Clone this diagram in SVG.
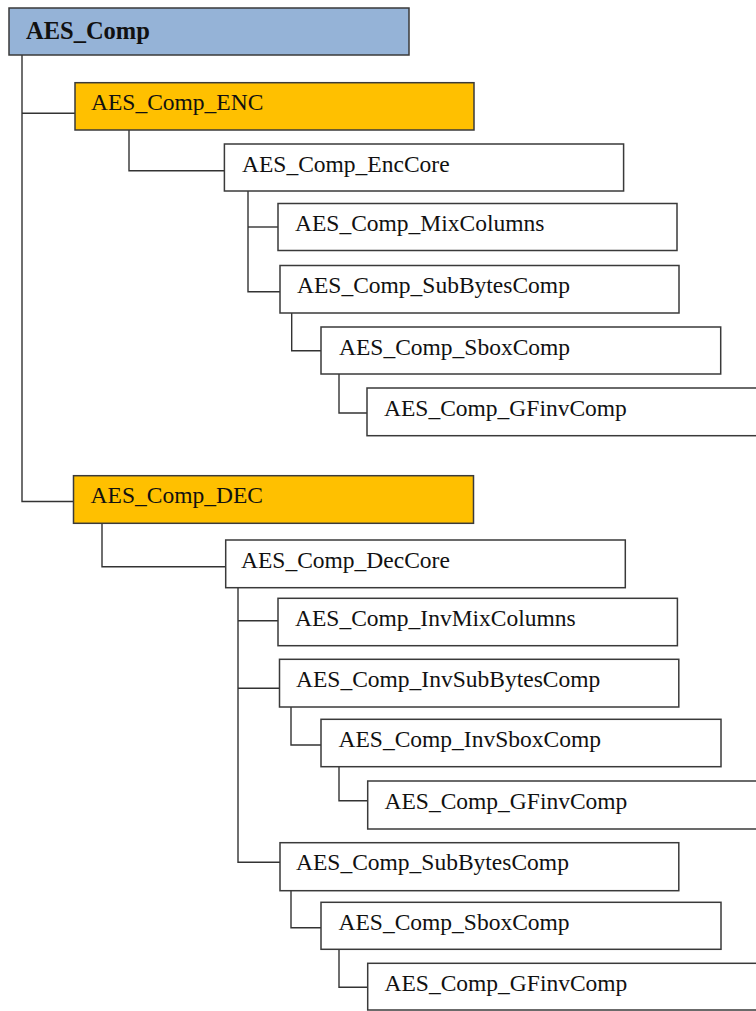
<svg xmlns="http://www.w3.org/2000/svg" width="756" height="1011" viewBox="0 0 756 1011">
<style>
.b{fill:#fff;stroke:#3a3a3a;stroke-width:1.5}
.blue{fill:#95B3D7}
.org{fill:#FFC000}
.t{font-family:"Liberation Serif","Times New Roman",serif;font-size:23.5px;fill:#111}
.tb{font-weight:bold;font-size:24.5px}
.c{fill:none;stroke:#333;stroke-width:1.4}
</style>
<rect width="756" height="1011" fill="#fff"/>
<g id="connectors">
<path class="c" d="M22,55 V501.5 H73.5"/>
<path class="c" d="M22,113.3 H75"/>
<path class="c" d="M129,130 V170.7 H224.4"/>
<path class="c" d="M248,191 V291.7 H280"/>
<path class="c" d="M248,227 H278"/>
<path class="c" d="M291.7,313 V350.7 H321"/>
<path class="c" d="M339,374 V413 H367"/>
<path class="c" d="M102,523.3 V566.7 H225.7"/>
<path class="c" d="M238,587.7 V862.3 H280"/>
<path class="c" d="M238,620.7 H278"/>
<path class="c" d="M238,688.3 H279"/>
<path class="c" d="M291,707 V745 H321"/>
<path class="c" d="M339,766.7 V800.7 H367.7"/>
<path class="c" d="M291,890.7 V927.7 H321"/>
<path class="c" d="M339,949.3 V987.3 H367.7"/>
</g>
<g id="n_root"><rect class="b blue" x="9" y="8" width="400" height="47"/><text class="t tb" x="26" y="38.5">AES_Comp</text></g>
<g id="n_enc"><rect class="b org" x="75" y="82.7" width="399" height="47.3"/><text class="t" x="91" y="110.2">AES_Comp_ENC</text></g>
<g id="n_enccore"><rect class="b" x="224.4" y="144" width="399.2" height="47"/><text class="t" x="242" y="171.5">AES_Comp_EncCore</text></g>
<g id="n_mix"><rect class="b" x="278" y="203.5" width="399" height="47"/><text class="t" x="295" y="231">AES_Comp_MixColumns</text></g>
<g id="n_sub1"><rect class="b" x="280" y="265.5" width="399" height="47.5"/><text class="t" x="297" y="293">AES_Comp_SubBytesComp</text></g>
<g id="n_sbox1"><rect class="b" x="321" y="327" width="399.7" height="47"/><text class="t" x="339" y="354.5">AES_Comp_SboxComp</text></g>
<g id="n_gf1"><rect class="b" x="367" y="388" width="420" height="47.7"/><text class="t" x="384" y="415.5">AES_Comp_GFinvComp</text></g>
<g id="n_dec"><rect class="b org" x="73.5" y="475.7" width="400" height="47.6"/><text class="t" x="90.6" y="503.2">AES_Comp_DEC</text></g>
<g id="n_deccore"><rect class="b" x="225.7" y="540" width="399.6" height="47.7"/><text class="t" x="241" y="567.5">AES_Comp_DecCore</text></g>
<g id="n_invmix"><rect class="b" x="278" y="598.3" width="399.4" height="47.4"/><text class="t" x="295" y="625.8">AES_Comp_InvMixColumns</text></g>
<g id="n_invsub"><rect class="b" x="279.5" y="659.3" width="399.3" height="47.7"/><text class="t" x="296" y="686.8">AES_Comp_InvSubBytesComp</text></g>
<g id="n_invsbox"><rect class="b" x="321" y="719.3" width="400" height="47.4"/><text class="t" x="338.5" y="746.8">AES_Comp_InvSboxComp</text></g>
<g id="n_gf2"><rect class="b" x="367.7" y="781" width="420" height="48"/><text class="t" x="384.5" y="808.5">AES_Comp_GFinvComp</text></g>
<g id="n_sub2"><rect class="b" x="280" y="842.7" width="398.8" height="48"/><text class="t" x="296" y="870.2">AES_Comp_SubBytesComp</text></g>
<g id="n_sbox2"><rect class="b" x="321" y="902.3" width="400" height="47"/><text class="t" x="338.5" y="929.8">AES_Comp_SboxComp</text></g>
<g id="n_gf3"><rect class="b" x="367.7" y="963.3" width="420" height="46.7"/><text class="t" x="384.5" y="990.8">AES_Comp_GFinvComp</text></g>
</svg>
